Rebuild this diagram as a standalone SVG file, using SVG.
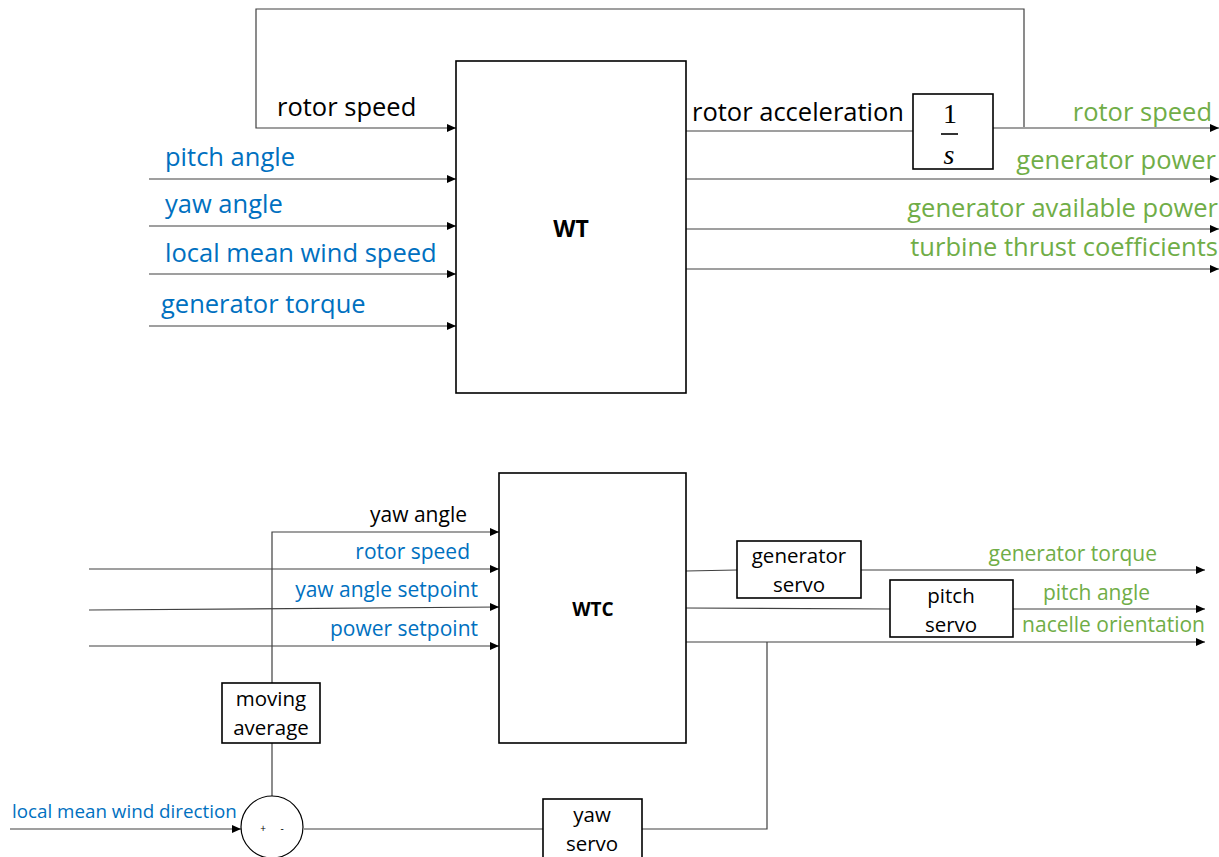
<svg xmlns="http://www.w3.org/2000/svg" width="1219" height="857" viewBox="0 0 1219 857">
<defs>
<marker id="ah" markerUnits="userSpaceOnUse" markerWidth="10" markerHeight="10" refX="9" refY="5" orient="auto">
<path d="M0,1 L9,5 L0,9 Z" fill="#000"/>
</marker>
<style>
.ln{fill:none;stroke:#404040;stroke-width:1.2}
.ar{fill:none;stroke:#404040;stroke-width:1.2;marker-end:url(#ah)}
.bx{fill:#fff;stroke:#000;stroke-width:1.6}
.t{font-family:"Open Sans","Noto Sans",sans-serif}
.L{font-size:25.5px}
.S{font-size:21px}
.B{font-size:20.5px}
.blue{fill:#0070C0}
.green{fill:#70AD47}
.blk{fill:#000}
</style>
</defs>
<rect width="1219" height="857" fill="#fff"/>
<g id="connectors">
<polyline class="ar" points="1024,127 1024,9 256,9 256,128 456,128"/>
<line class="ar" x1="149" y1="179" x2="456" y2="179"/>
<line class="ar" x1="149" y1="226" x2="456" y2="226"/>
<line class="ar" x1="149" y1="274" x2="456" y2="274"/>
<line class="ar" x1="149" y1="326" x2="456" y2="326"/>
<line class="ln" x1="686" y1="131" x2="913" y2="131"/>
<line class="ar" x1="993" y1="128" x2="1219" y2="128"/>
<line class="ar" x1="686" y1="179" x2="1219" y2="179"/>
<line class="ar" x1="686" y1="229" x2="1219" y2="229"/>
<line class="ar" x1="686" y1="269" x2="1219" y2="269"/>
<polyline class="ar" points="272,683 272,532 499,532"/>
<line class="ar" x1="89" y1="569" x2="499" y2="569"/>
<line class="ar" x1="89" y1="610" x2="499" y2="607"/>
<line class="ar" x1="89" y1="646" x2="499" y2="646"/>
<line class="ln" x1="272" y1="743" x2="272" y2="796"/>
<line class="ar" x1="10" y1="829" x2="241" y2="829"/>
<line class="ln" x1="304" y1="829" x2="543" y2="829"/>
<polyline class="ln" points="642,829 767,829 767,642"/>
<line class="ln" x1="686" y1="571" x2="737" y2="570"/>
<line class="ar" x1="861" y1="570" x2="1205" y2="570"/>
<line class="ln" x1="686" y1="608" x2="890" y2="609"/>
<line class="ar" x1="1013" y1="609" x2="1205" y2="609"/>
<line class="ar" x1="686" y1="642" x2="1205" y2="642"/>
</g>
<g id="WT">
<rect class="bx" x="456" y="61" width="230" height="332"/>
<text class="t blk" x="571" y="237" font-size="23" font-weight="bold" text-anchor="middle">WT</text>
</g>
<g id="integrator">
<rect class="bx" x="913" y="94" width="80" height="75"/>
<text x="950" y="123" font-family="Liberation Serif,serif" font-size="28" text-anchor="middle">1</text>
<line x1="941" y1="134" x2="958" y2="134" stroke="#000" stroke-width="1.6"/>
<text x="949" y="164" font-family="Liberation Serif,serif" font-size="28" font-style="italic" text-anchor="middle">s</text>
</g>
<g id="WTC">
<rect class="bx" x="499" y="473" width="187" height="270"/>
<text class="t blk" x="593" y="616" font-size="19" font-weight="bold" text-anchor="middle">WTC</text>
</g>
<g id="moving-average">
<rect class="bx" x="222" y="683" width="98" height="60"/>
<text class="t B blk" x="271" y="706" text-anchor="middle">moving</text>
<text class="t B blk" x="271" y="735" text-anchor="middle">average</text>
</g>
<g id="sum">
<ellipse cx="272" cy="827" rx="31" ry="31" fill="#fff" stroke="#000" stroke-width="1.2"/>
<text class="t blk" x="263" y="832" font-size="10" text-anchor="middle">+</text>
<text class="t blk" x="282" y="832" font-size="10" text-anchor="middle">-</text>
</g>
<g id="yaw-servo">
<rect class="bx" x="543" y="799" width="99" height="62"/>
<text class="t B blk" x="592" y="822" text-anchor="middle">yaw</text>
<text class="t B blk" x="592" y="851" text-anchor="middle">servo</text>
</g>
<g id="generator-servo">
<rect class="bx" x="737" y="541" width="124" height="57"/>
<text class="t B blk" x="799" y="563" text-anchor="middle">generator</text>
<text class="t B blk" x="799" y="592" text-anchor="middle">servo</text>
</g>
<g id="pitch-servo">
<rect class="bx" x="890" y="580" width="123" height="57"/>
<text class="t B blk" x="951" y="603" text-anchor="middle">pitch</text>
<text class="t B blk" x="951" y="632" text-anchor="middle">servo</text>
</g>
<g id="labels">
<text class="t L blk" x="277" y="116">rotor speed</text>
<text class="t L blue" x="165" y="166">pitch angle</text>
<text class="t L blue" x="165" y="213">yaw angle</text>
<text class="t L blue" x="165" y="262">local mean wind speed</text>
<text class="t L blue" x="161" y="313">generator torque</text>
<text class="t L blk" x="692" y="121">rotor acceleration</text>
<text class="t L green" x="1212" y="121" text-anchor="end">rotor speed</text>
<text class="t L green" x="1216" y="169" text-anchor="end">generator power</text>
<text class="t L green" x="1218" y="217" text-anchor="end">generator available power</text>
<text class="t L green" x="1218" y="256" text-anchor="end">turbine thrust coefficients</text>
<text class="t S blk" x="467" y="522" text-anchor="end">yaw angle</text>
<text class="t S blue" x="470" y="559" text-anchor="end">rotor speed</text>
<text class="t S blue" x="478" y="597" text-anchor="end">yaw angle setpoint</text>
<text class="t S blue" x="478" y="636" text-anchor="end">power setpoint</text>
<text class="t S green" x="1157" y="561" text-anchor="end">generator torque</text>
<text class="t S green" x="1150" y="600" text-anchor="end">pitch angle</text>
<text class="t S green" x="1205" y="632" text-anchor="end">nacelle orientation</text>
<text class="t blue" x="12" y="818" font-size="18.8">local mean wind direction</text>
</g>
</svg>
